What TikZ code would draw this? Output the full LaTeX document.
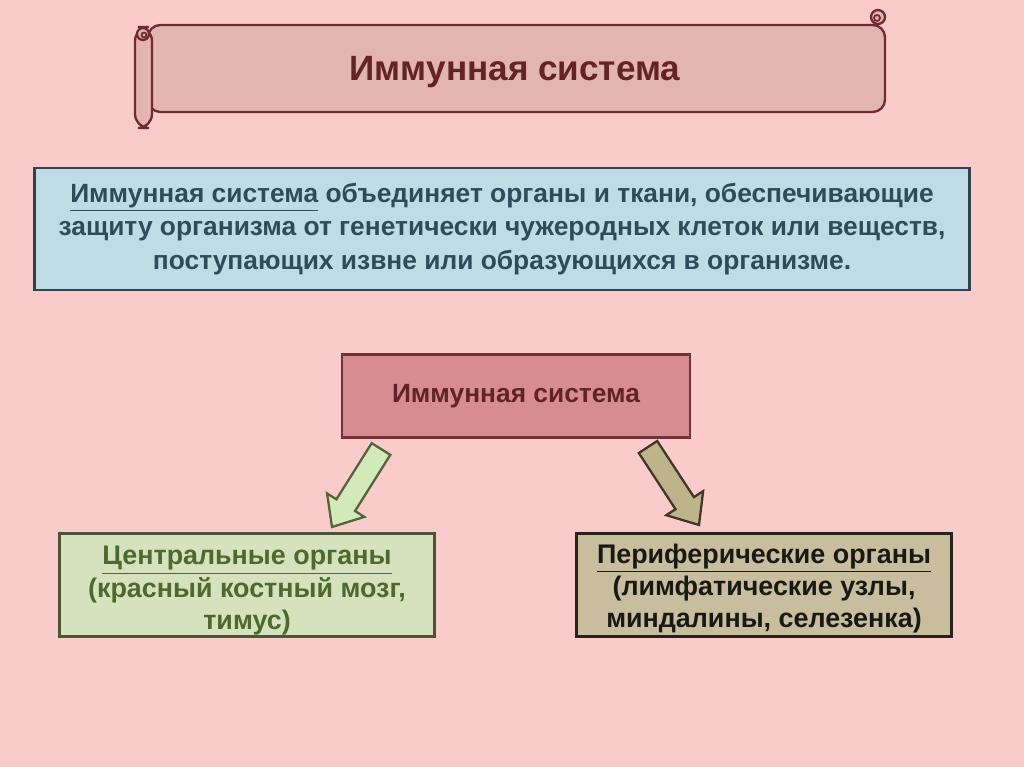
\documentclass[tikz,border=0pt]{standalone}
\usepackage{fontspec}
\setmainfont{Liberation Sans}
\usetikzlibrary{calc}
\definecolor{bg}{RGB}{249,203,203}
\definecolor{scrollfill}{RGB}{226,180,180}
\definecolor{scrolldraw}{RGB}{112,42,48}
\definecolor{scrolltext}{RGB}{100,35,40}
\definecolor{bluefill}{RGB}{191,220,230}
\definecolor{bluedraw}{RGB}{50,65,75}
\definecolor{bluetext}{RGB}{45,75,90}
\definecolor{midfill}{RGB}{214,140,145}
\definecolor{middraw}{RGB}{115,50,55}
\definecolor{midtext}{RGB}{95,35,40}
\definecolor{lfill}{RGB}{214,226,190}
\definecolor{ldraw}{RGB}{75,85,50}
\definecolor{ltext}{RGB}{78,105,46}
\definecolor{lafill}{RGB}{212,233,184}
\definecolor{ladraw}{RGB}{85,100,60}
\definecolor{rfill}{RGB}{200,190,158}
\definecolor{rdraw}{RGB}{40,35,25}
\definecolor{rtext}{RGB}{25,25,20}
\definecolor{rafill}{RGB}{190,180,140}
\definecolor{radraw}{RGB}{65,55,40}
\tikzset{
  scrollpart/.style={draw=scrolldraw, fill=scrollfill, line width=1.3pt},
  box/.style={draw, line width=1.3pt, inner sep=0pt, align=center, font=\bfseries},
  blockarrow/.style={line width=1.3pt, line join=miter}
}
\newcommand\blockarr[3]{%
  \filldraw[blockarrow,#3]
    ($(#1)!0.22cm!90:(#2)$) --
    ($(#1)!0.72!(#2)!0.22cm!90:(#2)$) --
    ($(#1)!0.72!(#2)!0.44cm!90:(#2)$) --
    (#2) --
    ($(#1)!0.72!(#2)!0.44cm!-90:(#2)$) --
    ($(#1)!0.72!(#2)!0.22cm!-90:(#2)$) --
    ($(#1)!0.22cm!-90:(#2)$) -- cycle;}
\begin{document}
\begin{tikzpicture}[x=0.02cm,y=-0.02cm]
\useasboundingbox (0,0) rectangle (1024,767);
\fill[bg] (0,0) rectangle (1024,767);
% scroll banner
\draw[scrollpart, rounded corners=7] (148,25) -- (885,25) -- (885,112) -- (148,112) -- cycle;
\draw[scrollpart, rounded corners=8] (135,27) rectangle (152,128);
\draw[scrollpart] (143,34) circle (6);
\draw[scrolldraw, line width=1pt] (144,35) circle (2.5);
\draw[scrollpart] (878,17) circle (7);
\draw[scrolldraw, line width=1pt] (877,18) circle (3);
\node[font=\bfseries\fontsize{20}{24}\selectfont, text=scrolltext] (title) at (515,72) {Иммунная система};
% definition box
\node[box, draw=bluedraw, fill=bluefill, text=bluetext, minimum width=18.7cm, minimum height=2.44cm,
      font=\bfseries\fontsize{15}{19}\selectfont] (def) at (502,229)
  {\underline{Иммунная система} объединяет органы и ткани, обеспечивающие\\
   защиту организма от генетически чужеродных клеток или веществ,\\
   поступающих извне или образующихся в организме.};
% middle box
\node[box, draw=middraw, fill=midfill, text=midtext, minimum width=6.96cm, minimum height=1.66cm,
      font=\bfseries\fontsize{15}{18}\selectfont] (imm) at (516,396) {Иммунная система};
% lower boxes
\node[box, draw=ldraw, fill=lfill, text=ltext, minimum width=7.5cm, minimum height=2.06cm,
      font=\bfseries\fontsize{15.3}{18.4}\selectfont] (central) at (247,585)
  {\rule{0pt}{17pt}\underline{Центральные органы}\\(красный костный мозг,\\тимус)};
\node[box, draw=rdraw, fill=rfill, text=rtext, minimum width=7.5cm, minimum height=2.06cm,
      font=\bfseries\fontsize{15.3}{18.4}\selectfont] (periph) at (764,585)
  {\rule{0pt}{15pt}\underline{Периферические органы}\\(лимфатические узлы,\\миндалины, селезенка)};
% arrows
\coordinate (lt) at (381,449);
\coordinate (lp) at (332,527);
\coordinate (rt) at (648,447);
\coordinate (rp) at (699,525);
\blockarr{lt}{lp}{draw=ladraw, fill=lafill}
\blockarr{rt}{rp}{draw=radraw, fill=rafill}
\end{tikzpicture}
\end{document}
